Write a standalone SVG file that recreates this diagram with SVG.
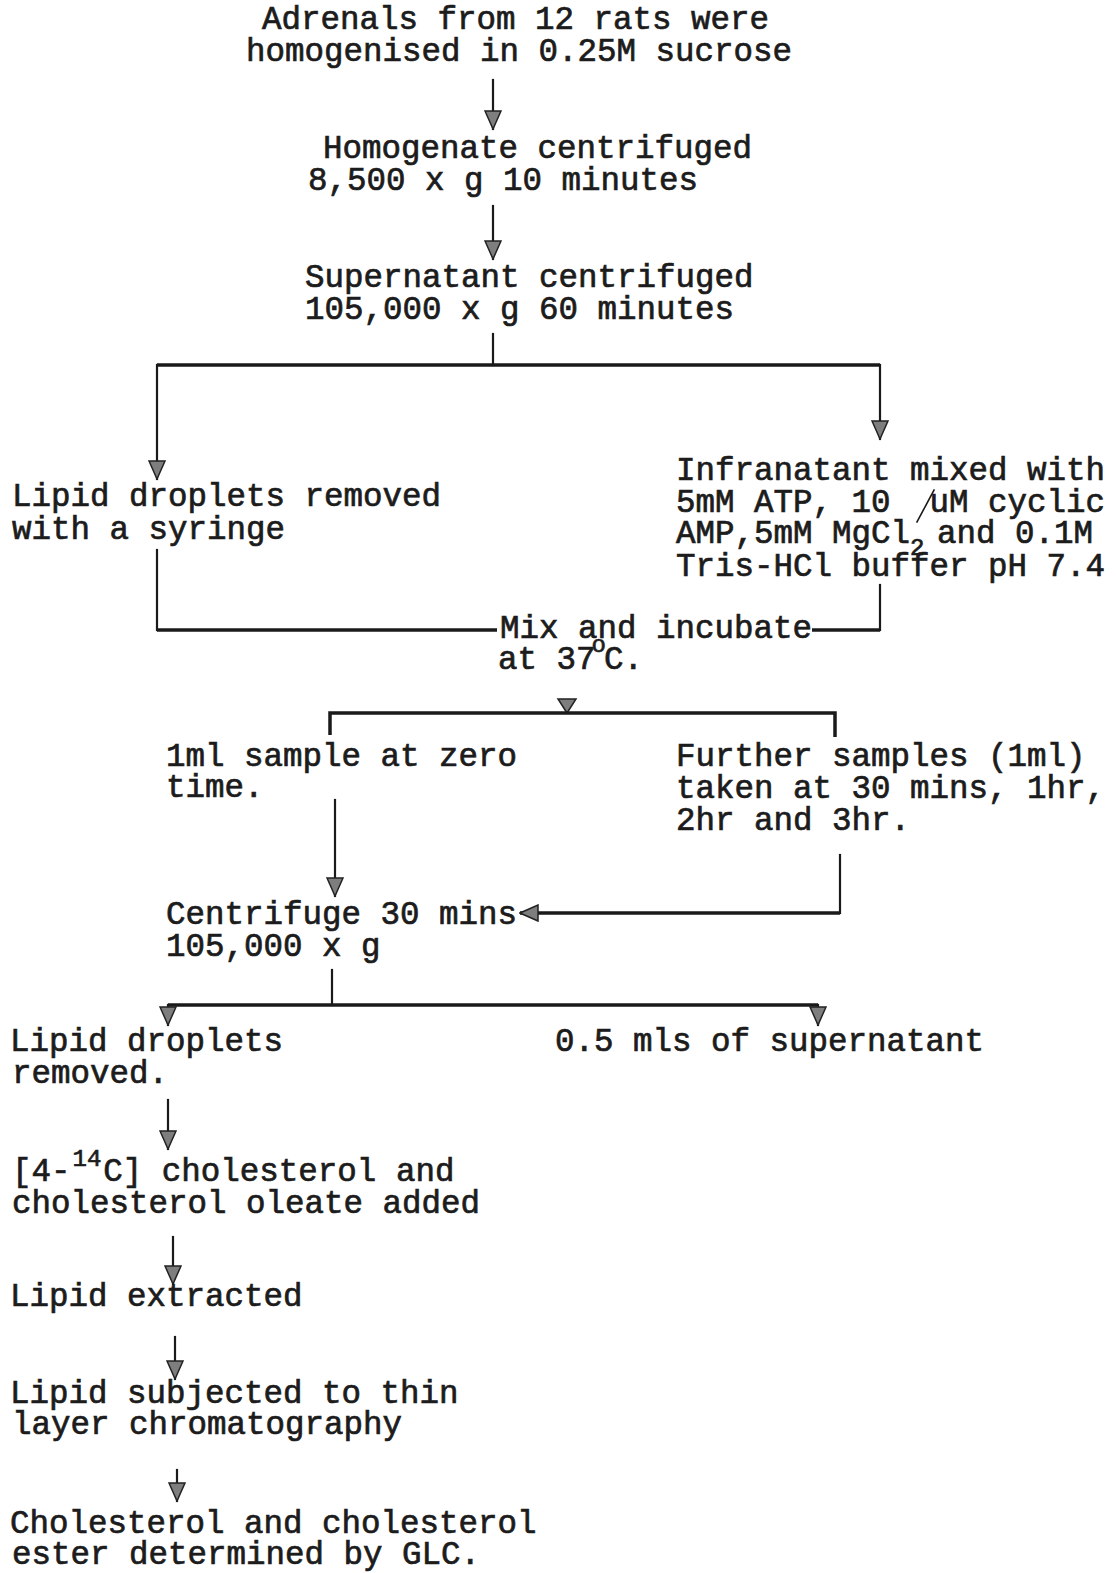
<svg xmlns="http://www.w3.org/2000/svg" width="1116" height="1573" viewBox="0 0 1116 1573">
<style>
  text { font-family: "Liberation Mono", "Courier New", monospace; font-size: 32.5px; fill: #1c1c1c; stroke: #1c1c1c; stroke-width: 0.7px; white-space: pre; }
  .sm { font-size: 24px; }
  .ln { fill: none; stroke: #1a1a1a; stroke-width: 2.2; stroke-linecap: square; }
  .bar { fill: none; stroke: #1a1a1a; stroke-width: 3.5; stroke-linejoin: miter; }
  .head { fill: #7e7e7e; stroke: #222; stroke-width: 1.5; stroke-linejoin: miter; }
</style>
<defs>
  <marker id="ah" markerUnits="userSpaceOnUse" viewBox="0 0 20 18" refX="19" refY="9" markerWidth="20" markerHeight="18" orient="auto">
    <path d="M1,1 L19,9 L1,17 Z" class="head"/>
  </marker>
</defs>
<rect width="1116" height="1573" fill="#ffffff"/>

<g id="connectors">
  <path class="ln" d="M493,80 V129" marker-end="url(#ah)"/>
  <path class="ln" d="M493,206 V259" marker-end="url(#ah)"/>
  <path class="ln" d="M493,334 V365"/>
  <path class="bar" d="M157,365 H880"/>
  <path class="ln" d="M157,365 V479" marker-end="url(#ah)"/>
  <path class="ln" d="M880,365 V439" marker-end="url(#ah)"/>
  <path class="ln" d="M157,550 V630"/>
  <path class="bar" d="M157,630 H497"/>
  <path class="bar" d="M812,630 H880"/>
  <path class="ln" d="M880,585 V630"/>
  <polygon class="head" points="558,699 576,699 567,713"/>
  <path class="bar" d="M330,735 V713 H835 V737"/>
  <path class="ln" d="M335,800 V896" marker-end="url(#ah)"/>
  <path class="ln" d="M840,855 V913"/>
  <path class="bar" d="M840,913 H520" marker-end="url(#ah)"/>
  <path class="ln" d="M332,970 V1005"/>
  <path class="bar" d="M168,1005 H818"/>
  <path class="ln" d="M168,1005 V1025" marker-end="url(#ah)"/>
  <path class="ln" d="M818,1005 V1025" marker-end="url(#ah)"/>
  <path class="ln" d="M168,1100 V1149" marker-end="url(#ah)"/>
  <path class="ln" d="M173,1237 V1284" marker-end="url(#ah)"/>
  <path class="ln" d="M175,1337 V1379" marker-end="url(#ah)"/>
  <path class="ln" d="M177,1470 V1501" marker-end="url(#ah)"/>
</g>

<g id="n1">
  <text><tspan x="262" y="29">Adrenals from 12 rats were</tspan><tspan x="246" y="61">homogenised in 0.25M sucrose</tspan></text>
</g>
<g id="n2">
  <text><tspan x="323" y="158">Homogenate centrifuged</tspan><tspan x="308" y="190">8,500 x g 10 minutes</tspan></text>
</g>
<g id="n3">
  <text><tspan x="305" y="287">Supernatant centrifuged</tspan><tspan x="305" y="319">105,000 x g 60 minutes</tspan></text>
</g>
<g id="n4">
  <text><tspan x="12" y="506">Lipid droplets removed</tspan><tspan x="12" y="539">with a syringe</tspan></text>
</g>
<g id="n5">
  <text><tspan x="676" y="480">Infranatant mixed with</tspan><tspan x="676" y="512">5mM ATP, 10  uM cyclic</tspan><tspan x="676" y="543">AMP,5mM MgCl</tspan><tspan class="sm" dy="12">2</tspan><tspan dx="-7" dy="-12"> and 0.1M</tspan><tspan x="676" y="576">Tris-HCl buffer pH 7.4</tspan></text>
  <path class="ln" d="M934,490 L917,522" style="stroke-width:1.6"/>
</g>
<g id="n6">
  <text><tspan x="500" y="638">Mix and incubate</tspan><tspan x="498" y="669">at 37</tspan><tspan class="sm" dx="-4" dy="-17">o</tspan><tspan dx="-2" dy="17">C.</tspan></text>
</g>
<g id="n7">
  <text><tspan x="166" y="766">1ml sample at zero</tspan><tspan x="166" y="797">time.</tspan></text>
</g>
<g id="n8">
  <text><tspan x="676" y="766">Further samples (1ml)</tspan><tspan x="676" y="798">taken at 30 mins, 1hr,</tspan><tspan x="676" y="830">2hr and 3hr.</tspan></text>
</g>
<g id="n9">
  <text><tspan x="166" y="924">Centrifuge 30 mins</tspan><tspan x="166" y="956">105,000 x g</tspan></text>
</g>
<g id="n10">
  <text><tspan x="10" y="1051">Lipid droplets</tspan><tspan x="12" y="1083">removed.</tspan></text>
</g>
<g id="n11">
  <text x="555" y="1051">0.5 mls of supernatant</text>
</g>
<g id="n12">
  <text><tspan x="12" y="1181">[4-</tspan><tspan class="sm" dx="2" dy="-15">14</tspan><tspan dx="2" dy="15">C] cholesterol and</tspan><tspan x="12" y="1213">cholesterol oleate added</tspan></text>
</g>
<g id="n13">
  <text x="10" y="1306">Lipid extracted</text>
</g>
<g id="n14">
  <text><tspan x="10" y="1403">Lipid subjected to thin</tspan><tspan x="12" y="1434">layer chromatography</tspan></text>
</g>
<g id="n15">
  <text><tspan x="10" y="1533">Cholesterol and cholesterol</tspan><tspan x="12" y="1564">ester determined by GLC.</tspan></text>
</g>
</svg>
